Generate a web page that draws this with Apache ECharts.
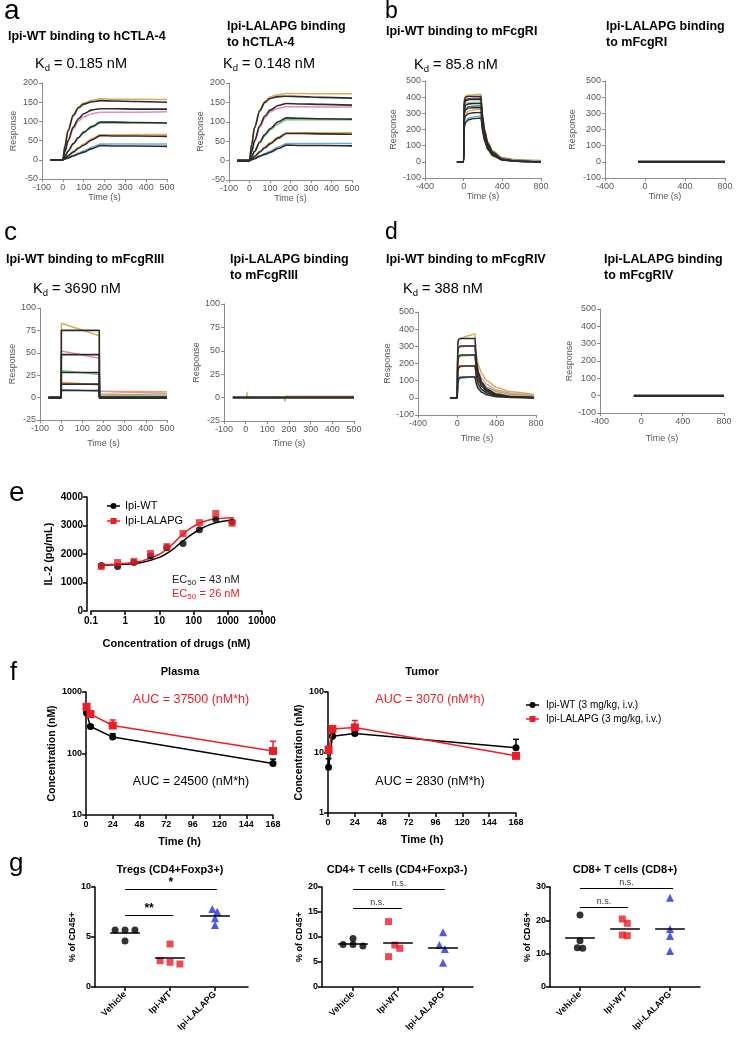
<!DOCTYPE html>
<html><head><meta charset="utf-8">
<script src="https://cdn.jsdelivr.net/npm/echarts@6/dist/echarts.min.js"></script>
<style>html,body{margin:0;padding:0;background:#fff}#c{width:736px;height:1040px}</style>
</head><body><div id="c"></div>
<script>
const FONT = "'Liberation Sans', Arial, Helvetica, sans-serif";

// ---------- Sensorgram data (a-d) ----------
const tA = [-60, 0, 10, 25, 50, 75, 100, 140, 180, 250, 350, 500];
const a1Fits = [
  [0,0,35,75,115,135,145,151,154,153,152,150],
  [0,0,22,50,85,107,120,130,133,133,132,132],
  [0,0,9,22,42,58,72,87,98,98,97,96],
  [0,0,4,10,20,30,38,52,63,62,62,61],
  [0,0,2,5,10,15,20,29,37,36,36,35]];
const a1Data = [
  [0,0,38,78,118,138,148,155,159,158,158,157],
  [0,0,20,46,80,101,112,120,124,124,124,125],
  [0,0,9,22,41,57,70,85,96,96,96,96],
  [0,0,5,12,22,32,41,55,65,65,66,66],
  [0,0,3,6,12,18,23,33,41,41,41,41]];
const a2Fits = [
  [0,0,40,85,128,150,160,165,166,165,163,161],
  [0,0,22,52,90,115,130,142,147,146,145,143],
  [0,0,10,24,48,67,82,100,110,109,108,107],
  [0,0,4,11,22,33,43,58,70,70,69,68],
  [0,0,2,5,11,16,21,31,40,39,39,38]];
const a2Data = [
  [0,0,42,88,131,153,164,170,173,173,172,172],
  [0,0,20,48,85,110,125,135,139,139,138,138],
  [0,0,9,23,46,64,79,95,105,105,105,105],
  [0,0,5,12,24,35,46,61,72,72,72,72],
  [0,0,3,6,13,18,24,35,44,44,44,44]];

const tB = [-70, 0, 3, 8, 20, 50, 100, 180, 185, 195, 215, 250, 300, 400, 550, 800];
const b1Fits = [
  [0,0,330,385,400,405,405,405,356,284,194,113,57,16,4,0],
  [0,0,300,360,378,384,385,385,339,270,185,108,54,15,4,0],
  [0,0,270,330,350,358,360,360,317,252,173,101,50,14,4,0],
  [0,0,240,300,322,332,335,335,295,235,161,94,47,13,3,0],
  [0,0,200,260,285,298,304,305,268,214,146,85,43,12,3,0],
  [0,0,160,215,243,260,267,270,238,189,130,76,38,11,3,0]];
const b1Data = [
  [0,0,340,395,408,412,415,418,370,300,210,125,68,25,12,8],
  [0,0,315,370,385,390,393,395,348,280,195,115,62,22,10,6],
  [0,0,280,340,358,364,367,368,325,262,182,108,58,20,9,5],
  [0,0,250,310,330,340,344,346,305,246,170,101,54,19,8,4],
  [0,0,210,270,298,315,322,326,287,232,160,95,51,18,7,3],
  [0,0,170,225,252,270,278,282,250,203,140,84,45,16,6,2]];
const tB2 = [-70, 800];
const b2Fit = [0, 0];

const tC = [-60, 0, 1, 180, 181, 183, 500];
const c1Fits = [
  [0,0,75,75,0,0,0],
  [0,0,48,48,0,0,0],
  [0,0,28,28,0,0,0],
  [0,0,15,15,0,0,0],
  [0,0,8,8,0,0,0]];
const c1Data = [
  [0,0,83,69,10,7,6.5],
  [0,0,52,44,7,5,4.5],
  [0,0,30,26,4,3,2.5],
  [0,0,17,14,3,2,1.5],
  [0,0,9,7,1.5,1,1]];
const tC2 = [-60, 4, 6, 8, 178, 181, 184, 500];
const c2Data = [0, 0, 6, 0, 0, -4, 1.5, 1.5];
const tC2Fit = [-60, 500];
const c2Fit = [0, 0];

const tD = [-75, 0, 3, 10, 30, 100, 180, 185, 195, 215, 250, 300, 400, 550, 780];
const d1Fits = [
  [0,0,300,340,345,345,345,293,214,145,90,52,21,7,2],
  [0,0,255,295,302,302,302,257,187,127,79,45,18,6,2],
  [0,0,200,240,250,250,250,213,155,105,65,38,15,5,1],
  [0,0,140,175,185,186,186,158,115,78,48,28,11,4,1],
  [0,0,80,110,120,122,122,104,76,51,32,18,7,2,1]];
const d1Data = [
  [0,0,290,335,345,360,372,320,250,190,140,100,60,35,20],
  [0,0,250,290,297,300,303,260,200,150,108,78,45,25,14],
  [0,0,195,232,242,247,250,215,165,122,88,62,36,19,10],
  [0,0,130,168,180,185,188,162,125,92,66,46,26,13,7],
  [0,0,70,100,112,119,124,107,83,62,44,31,17,8,4]];
const tD2 = [-75, 800];
const d2Fit = [0, 0];

// ---------- Panel e ----------
const eConc = [0.2, 0.6, 1.8, 5.5, 16.5, 49, 148, 444, 1333];
const eWT = [1600, 1560, 1700, 1930, 2220, 2370, 2850, 3220, 3120];
const eLALAPG = [1560, 1700, 1740, 2020, 2260, 2720, 3100, 3420, 3080];
const eFitX = [0.18, 0.5, 1, 3, 10, 20, 40, 80, 150, 300, 600, 1500];
const eFitWT = [1610, 1620, 1640, 1700, 1880, 2080, 2370, 2650, 2860, 3030, 3130, 3190];
const eFitLALAPG = [1620, 1640, 1665, 1750, 1990, 2250, 2600, 2900, 3080, 3200, 3250, 3270];

// ---------- Panel f ----------
const fTime = [0.5, 4, 24, 168];
const plasmaWT = [455, 275, 185, 69];
const plasmaWTErr = [20, 15, 25, 12];
const plasmaLALAPG = [574, 438, 285, 110];
const plasmaLALAPGErr = [45, 20, 66, 48];
const tumorWT = [5.7, 18.6, 20.6, 12.0];
const tumorWTErr = [2.2, 1.5, 1.5, 4.5];
const tumorLALAPG = [11.0, 24.5, 26.0, 8.8];
const tumorLALAPGErr = [1.8, 2.2, 7.8, 0.8];

// ---------- Panel g ----------
const gCats = ['Vehicle', 'Ipi-WT', 'Ipi-LALAPG'];
const tregs = [[5.7, 5.7, 5.7, 4.6], [2.63, 4.3, 2.47, 2.3], [7.8, 7.53, 6.87, 6.2]];
const tregsJit = [[-0.22, 0, 0.22, 0], [-0.22, 0, 0, 0.22], [-0.06, 0.05, 0, 0]];
const cd4 = [[8.5, 9.7, 8.5, 8.2], [13.07, 8.4, 7.73, 6.07], [10.93, 8.4, 7.6, 4.87]];
const cd4Jit = [[-0.22, 0, 0, 0.22], [-0.21, -0.07, 0.04, -0.21], [0, -0.08, 0.04, 0]];
const cd8 = [[21.6, 13.9, 11.8, 11.6], [20.4, 19.1, 15.6, 15.4], [26.8, 17.4, 15.3, 10.8]];
const cd8Jit = [[0, 0, -0.06, 0.06], [-0.06, 0.05, -0.06, 0.05], [0, 0, 0, 0]];
const tregsSig = [[0, 1.07, 7.2, '**'], [0, 2.04, 9.8, '*']];
const cd4Sig = [[0, 1.09, 15.7, 'n.s.'], [0, 2.04, 19.6, 'n.s.']];
const cd8Sig = [[0, 1.07, 23.9, 'n.s.'], [0, 2.07, 29.6, 'n.s.']];

// ---------- builders ----------
const grids = [], xAxes = [], yAxes = [], series = [], graphics = [];
function grid(l, t, w, h) { grids.push({left: l, top: t, width: w, height: h}); return grids.length - 1; }
const plain = v => String(+v.toPrecision(6));

const SG_AX = '#8c8c8c', SG_LAB = '#595959';
function sgAxes(gi, xmin, xmax, xint, ymin, ymax, yint, xGap, yGap) {
  xAxes.push({gridIndex: gi, type: 'value', min: xmin, max: xmax, interval: xint,
    axisLine: {onZero: false, lineStyle: {color: SG_AX, width: 1}},
    axisTick: {show: true, length: 3, lineStyle: {color: SG_AX}},
    axisLabel: {color: SG_LAB, fontSize: 9, fontFamily: FONT, margin: 4, formatter: plain},
    splitLine: {show: false},
    name: 'Time (s)', nameLocation: 'middle', nameGap: xGap,
    nameTextStyle: {color: SG_LAB, fontSize: 9, fontFamily: FONT}});
  yAxes.push({gridIndex: gi, type: 'value', min: ymin, max: ymax, interval: yint,
    axisLine: {show: true, onZero: false, lineStyle: {color: SG_AX, width: 1}},
    axisTick: {show: true, length: 3, lineStyle: {color: SG_AX}},
    axisLabel: {color: SG_LAB, fontSize: 9, fontFamily: FONT, margin: 4, formatter: plain},
    splitLine: {show: false},
    name: 'Response', nameLocation: 'middle', nameGap: yGap,
    nameTextStyle: {color: SG_LAB, fontSize: 9, fontFamily: FONT}});
}
function curves(gi, t, list, colors, width, smooth, z) {
  list.forEach((vals, k) => series.push({type: 'line', xAxisIndex: gi, yAxisIndex: gi,
    data: t.map((x, i) => [x, vals[i]]), showSymbol: false, symbol: 'none',
    smooth: smooth, smoothMonotone: 'x', silent: true, z: z,
    lineStyle: {color: colors[k % colors.length], width: width}}));
}
const SG5 = ['#d9ad55', '#ee86b6', '#72c17b', '#f3a34a', '#6aaee0'];
const SG6 = ['#d9ad55', '#7a3b52', '#72c17b', '#4f6d8a', '#f3a34a', '#6aaee0'];
const FIT = ['#2b2b2b'];

// a
let g = grid(42, 83, 125, 96);
sgAxes(g, -100, 500, 100, -50, 200, 50, 14, 24);
curves(g, tA, a1Data, SG5, 1.5, 0.3, 2); curves(g, tA, a1Fits, FIT, 1.6, 0.3, 3);
g = grid(229, 83, 123, 97);
sgAxes(g, -100, 500, 100, -50, 200, 50, 14, 24);
curves(g, tA, a2Data, SG5, 1.5, 0.3, 2); curves(g, tA, a2Fits, FIT, 1.6, 0.3, 3);
// b
g = grid(425, 81, 116, 97);
sgAxes(g, -400, 800, 400, -100, 500, 100, 13, 27);
curves(g, tB, b1Data, SG6, 1.5, 0.25, 2); curves(g, tB, b1Fits, FIT, 1.4, 0.25, 3);
g = grid(605, 81, 120, 97);
sgAxes(g, -400, 800, 400, -100, 500, 100, 13, 28);
curves(g, tB2, [b2Fit], FIT, 2.5, false, 3);
// c
g = grid(40, 308, 127, 112);
sgAxes(g, -100, 500, 100, -25, 100, 25, 19, 21);
curves(g, tC, c1Data, SG5, 1.5, false, 2); curves(g, tC, c1Fits, FIT, 1.6, false, 3);
g = grid(224, 304, 130, 117);
sgAxes(g, -100, 500, 100, -25, 100, 25, 18, 19);
curves(g, tC2, [c2Data], ['#d9ad55'], 1.3, false, 2); curves(g, tC2Fit, [c2Fit], FIT, 2.5, false, 3);
// d
g = grid(418, 312, 118, 103);
sgAxes(g, -400, 800, 400, -100, 500, 100, 19, 25);
curves(g, tD, d1Data, SG5, 1.5, 0.25, 2); curves(g, tD, d1Fits, FIT, 1.5, 0.25, 3);
g = grid(600, 309, 124, 104);
sgAxes(g, -400, 800, 400, -100, 500, 100, 21, 23);
curves(g, tD2, [d2Fit], FIT, 2.5, false, 3);

// GraphPad-style axes
const BK = '#000';
function gpAxisStyle(extra) {
  return Object.assign({
    axisLine: {show: true, onZero: false, lineStyle: {color: BK, width: 1.5}},
    axisTick: {show: true, length: 4, lineStyle: {color: BK, width: 1.5}},
    splitLine: {show: false}}, extra);
}
const RED = '#ee1c25';

// e
g = grid(91, 497, 171, 114);
xAxes.push(gpAxisStyle({gridIndex: g, type: 'log', logBase: 10, min: 0.1, max: 10000,
  axisLabel: {color: BK, fontSize: 10, fontWeight: 'bold', fontFamily: FONT, margin: 5, formatter: plain},
  name: 'Concentration of drugs (nM)', nameLocation: 'middle', nameGap: 27,
  nameTextStyle: {color: BK, fontSize: 11, fontWeight: 'bold', fontFamily: FONT}}));
yAxes.push(gpAxisStyle({gridIndex: g, type: 'value', min: 0, max: 4000, interval: 1000, offset: 4,
  axisLabel: {color: BK, fontSize: 10, fontWeight: 'bold', fontFamily: FONT, margin: 4, formatter: plain},
  name: 'IL-2 (pg/mL)', nameLocation: 'middle', nameGap: 33,
  nameTextStyle: {color: BK, fontSize: 11, fontWeight: 'bold', fontFamily: FONT}}));
series.push({type: 'line', xAxisIndex: g, yAxisIndex: g, data: eFitX.map((x, i) => [x, eFitWT[i]]),
  smooth: 0.4, showSymbol: false, symbol: 'none', lineStyle: {color: BK, width: 1.5}, z: 3});
series.push({type: 'line', xAxisIndex: g, yAxisIndex: g, data: eFitX.map((x, i) => [x, eFitLALAPG[i]]),
  smooth: 0.4, showSymbol: false, symbol: 'none', lineStyle: {color: RED, width: 1.5}, z: 3});
series.push({type: 'scatter', xAxisIndex: g, yAxisIndex: g, data: eConc.map((x, i) => [x, eWT[i]]),
  symbol: 'circle', symbolSize: 7, itemStyle: {color: BK}, z: 4});
series.push({type: 'scatter', xAxisIndex: g, yAxisIndex: g, data: eConc.map((x, i) => [x, eLALAPG[i]]),
  symbol: 'rect', symbolSize: 7, itemStyle: {color: RED}, z: 4});

// f
function errSeries(gi, xs, ys, es, color) {
  series.push({type: 'custom', xAxisIndex: gi, yAxisIndex: gi, silent: true, z: 2,
    data: xs.map((x, i) => [x, ys[i], ys[i] + es[i]]),
    renderItem: (p, api) => {
      const a = api.coord([api.value(0), api.value(1)]);
      const b = api.coord([api.value(0), api.value(2)]);
      return {type: 'group', children: [
        {type: 'line', shape: {x1: a[0], y1: a[1], x2: b[0], y2: b[1]}, style: {stroke: color, lineWidth: 1.5}},
        {type: 'line', shape: {x1: b[0] - 3, y1: b[1], x2: b[0] + 3, y2: b[1]}, style: {stroke: color, lineWidth: 1.5}}]};
    }});
}
function pkPanel(gi, ymin, ymax, wt, wtE, la, laE, yGap) {
  xAxes.push(gpAxisStyle({gridIndex: gi, type: 'value', min: 0, max: 168, interval: 24,
    axisLabel: {color: BK, fontSize: 9, fontWeight: 'bold', fontFamily: FONT, margin: 5, formatter: plain},
    name: 'Time (h)', nameLocation: 'middle', nameGap: 21,
    nameTextStyle: {color: BK, fontSize: 11, fontWeight: 'bold', fontFamily: FONT}}));
  yAxes.push(gpAxisStyle({gridIndex: gi, type: 'log', logBase: 10, min: ymin, max: ymax,
    axisLabel: {color: BK, fontSize: 9, fontWeight: 'bold', fontFamily: FONT, margin: 4, formatter: plain},
    name: 'Concentration (nM)', nameLocation: 'middle', nameGap: yGap,
    nameTextStyle: {color: BK, fontSize: 10.5, fontWeight: 'bold', fontFamily: FONT}}));
  errSeries(gi, fTime, wt, wtE, BK);
  errSeries(gi, fTime, la, laE, RED);
  series.push({type: 'line', xAxisIndex: gi, yAxisIndex: gi, data: fTime.map((x, i) => [x, wt[i]]),
    symbol: 'circle', symbolSize: 7, showSymbol: true, itemStyle: {color: BK}, lineStyle: {color: BK, width: 1.5}, z: 3});
  series.push({type: 'line', xAxisIndex: gi, yAxisIndex: gi, data: fTime.map((x, i) => [x, la[i]]),
    symbol: 'rect', symbolSize: 8, showSymbol: true, itemStyle: {color: RED}, lineStyle: {color: RED, width: 1.5}, z: 4});
}
g = grid(86, 692, 187, 123);
pkPanel(g, 10, 1000, plasmaWT, plasmaWTErr, plasmaLALAPG, plasmaLALAPGErr, 25);
g = grid(328, 692, 188, 121);
pkPanel(g, 1, 100, tumorWT, tumorWTErr, tumorLALAPG, tumorLALAPGErr, 19);

// g
function dotPlot(gi, xmin, xmax, ymax, yint, groups, jits, sig, yGap) {
  xAxes.push(gpAxisStyle({gridIndex: gi, type: 'value', min: xmin, max: xmax,
    axisTick: {show: true, length: 4, customValues: [0, 1, 2], lineStyle: {color: BK, width: 1.5}},
    axisLabel: {customValues: [0, 1, 2], formatter: v => gCats[Math.round(v)], rotate: 45,
      color: BK, fontSize: 9, fontWeight: 'bold', fontFamily: FONT, margin: 6}}));
  yAxes.push(gpAxisStyle({gridIndex: gi, type: 'value', min: 0, max: ymax, interval: yint,
    axisLabel: {color: BK, fontSize: 9, fontWeight: 'bold', fontFamily: FONT, margin: 4},
    name: '% of CD45+', nameLocation: 'middle', nameGap: yGap,
    nameTextStyle: {color: BK, fontSize: 9, fontWeight: 'bold', fontFamily: FONT}}));
  const syms = ['circle', 'rect', 'triangle'], cols = [BK, RED, '#1f2fe0'], sizes = [7, 7, 8];
  const means = groups.map(v => v.reduce((a, b) => a + b, 0) / v.length);
  groups.forEach((vals, k) => {
    const s = {type: 'scatter', xAxisIndex: gi, yAxisIndex: gi, z: 4,
      data: vals.map((v, i) => [k + jits[k][i], v]), symbol: syms[k], symbolSize: sizes[k],
      itemStyle: {color: cols[k]}};
    if (k === 0) {
      const ml = means.map((m, j) => [
        {coord: [j - 0.33, m], lineStyle: {color: BK, width: 1.5, type: 'solid'}, label: {show: false}},
        {coord: [j + 0.33, m]}]);
      sig.forEach(b => ml.push([
        {coord: [b[0], b[2]], lineStyle: {color: BK, width: 1.2, type: 'solid'},
          label: {show: true, position: 'insideMiddleTop', formatter: b[3], color: b[3] === 'n.s.' ? '#333' : BK,
            fontSize: b[3] === 'n.s.' ? 9 : 12, fontWeight: b[3] === 'n.s.' ? 'normal' : 'bold',
            fontFamily: FONT, distance: b[3] === 'n.s.' ? 1 : 0}},
        {coord: [b[1], b[2]]}]));
      s.markLine = {silent: true, symbol: ['none', 'none'], data: ml, animation: false};
    }
    series.push(s);
  });
}
g = grid(95, 887, 153, 100);
dotPlot(g, -0.667, 2.733, 10, 5, tregs, tregsJit, tregsSig, 16);
g = grid(322, 887, 151, 100);
dotPlot(g, -0.689, 2.667, 20, 5, cd4, cd4Jit, cd4Sig, 16);
g = grid(550, 887, 150, 100);
dotPlot(g, -0.667, 2.667, 30, 10, cd8, cd8Jit, cd8Sig, 17);

// ---------- texts ----------
function txt(x, y, s, o) {
  graphics.push({type: 'text', x: x, y: y, silent: true, z: 10,
    style: Object.assign({text: s, fontFamily: FONT, fontSize: 12.5, fontWeight: 'normal', fill: '#000',
      align: 'left', verticalAlign: 'middle'}, o || {})});
}
function kd(x, y, val) {
  txt(x, y, 'K', {fontSize: 14.5});
  txt(x + 9.7, y + 4, 'd', {fontSize: 9.5});
  txt(x + 15, y, ' = ' + val, {fontSize: 14.5});
}
const B = {fontWeight: 'bold', fontSize: 12.5};
// panel letters
txt(4, 11, 'a', {fontSize: 28}); txt(385, 12, 'b', {fontSize: 23});
txt(4, 233, 'c', {fontSize: 26}); txt(385, 233, 'd', {fontSize: 23});
txt(9, 493, 'e', {fontSize: 28}); txt(10, 673, 'f', {fontSize: 25});
txt(9, 864, 'g', {fontSize: 26});
// a
txt(8, 37, 'Ipi-WT binding to hCTLA-4', B);
txt(227, 27, 'Ipi-LALAPG binding', B); txt(227, 43, 'to hCTLA-4', B);
kd(35, 64, '0.185 nM'); kd(223, 64, '0.148 nM');
// b
txt(386, 32, 'Ipi-WT binding to mFcgRI', B);
txt(606, 27, 'Ipi-LALAPG binding', B); txt(606, 43, 'to mFcgRI', B);
kd(414, 65, '85.8 nM');
// c
txt(6, 260, 'Ipi-WT binding to mFcgRIII', B);
txt(230, 260, 'Ipi-LALAPG binding', B); txt(230, 276, 'to mFcgRIII', B);
kd(33, 289, '3690 nM');
// d
txt(386, 260, 'Ipi-WT binding to mFcgRIV', B);
txt(604, 260, 'Ipi-LALAPG binding', B); txt(604, 276, 'to mFcgRIV', B);
kd(403, 289, '388 nM');
// e legend + EC50
graphics.push({type: 'line', shape: {x1: 107, y1: 506, x2: 120, y2: 506}, style: {stroke: BK, lineWidth: 1.5}, z: 10});
graphics.push({type: 'circle', shape: {cx: 113.5, cy: 506, r: 3}, style: {fill: BK}, z: 10});
txt(125, 506, 'Ipi-WT', {fontSize: 11});
graphics.push({type: 'line', shape: {x1: 107, y1: 521, x2: 120, y2: 521}, style: {stroke: RED, lineWidth: 1.5}, z: 10});
graphics.push({type: 'rect', shape: {x: 110.5, y: 518, width: 6, height: 6}, style: {fill: RED}, z: 10});
txt(125, 521, 'Ipi-LALAPG', {fontSize: 11});
function ec50(x, y, val, col) {
  txt(x, y, 'EC', {fontSize: 11, fill: col});
  txt(x + 15.3, y + 3, '50', {fontSize: 8, fill: col});
  txt(x + 24.5, y, ' = ' + val, {fontSize: 11, fill: col});
}
ec50(172, 580, '43 nM', '#222'); ec50(172, 594, '26 nM', RED);
// f
txt(180, 672, 'Plasma', {fontWeight: 'bold', fontSize: 11, align: 'center'});
txt(422, 672, 'Tumor', {fontWeight: 'bold', fontSize: 11, align: 'center'});
txt(191, 700, 'AUC = 37500 (nM*h)', {fontSize: 12.5, fill: RED, align: 'center'});
txt(191, 782, 'AUC = 24500 (nM*h)', {fontSize: 12.5, align: 'center'});
txt(430, 700, 'AUC = 3070 (nM*h)', {fontSize: 12.5, fill: RED, align: 'center'});
txt(430, 782, 'AUC = 2830 (nM*h)', {fontSize: 12.5, align: 'center'});
graphics.push({type: 'line', shape: {x1: 526, y1: 705, x2: 539, y2: 705}, style: {stroke: BK, lineWidth: 1.5}, z: 10});
graphics.push({type: 'circle', shape: {cx: 532.5, cy: 705, r: 3}, style: {fill: BK}, z: 10});
txt(546, 705, 'Ipi-WT (3 mg/kg, i.v.)', {fontSize: 10});
graphics.push({type: 'line', shape: {x1: 526, y1: 719, x2: 539, y2: 719}, style: {stroke: RED, lineWidth: 1.5}, z: 10});
graphics.push({type: 'rect', shape: {x: 529.5, y: 716, width: 6, height: 6}, style: {fill: RED}, z: 10});
txt(546, 719, 'Ipi-LALAPG (3 mg/kg, i.v.)', {fontSize: 10});
// g titles
txt(170, 870, 'Tregs (CD4+Foxp3+)', {fontWeight: 'bold', fontSize: 11, align: 'center'});
txt(397, 870, 'CD4+ T cells (CD4+Foxp3-)', {fontWeight: 'bold', fontSize: 11, align: 'center'});
txt(625, 870, 'CD8+ T cells (CD8+)', {fontWeight: 'bold', fontSize: 11, align: 'center'});

const chart = echarts.init(document.getElementById('c'), null, {renderer: 'canvas'});
chart.setOption({
  animation: false,
  backgroundColor: '#fff',
  textStyle: {fontFamily: FONT},
  grid: grids, xAxis: xAxes, yAxis: yAxes, series: series, graphic: graphics
});
</script></body></html>
